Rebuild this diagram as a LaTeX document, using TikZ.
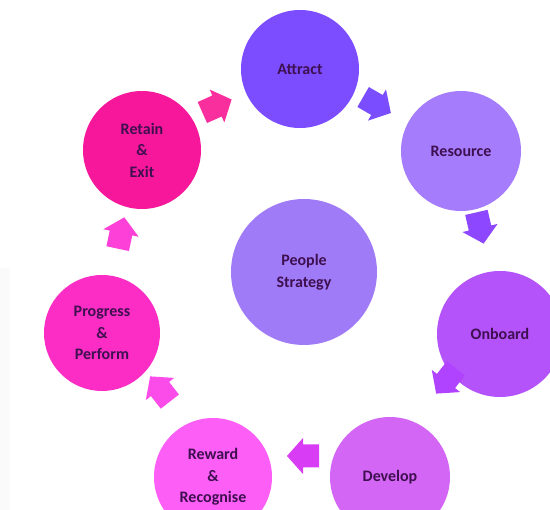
\documentclass[tikz,border=0pt]{standalone}
\usepackage{fontspec}
\setmainfont{Carlito}
\definecolor{cAttract}{HTML}{7C4DFF}
\definecolor{cResource}{HTML}{A57CFB}
\definecolor{cPeople}{HTML}{A07BF8}
\definecolor{cOnboard}{HTML}{B553FA}
\definecolor{cDevelop}{HTML}{D466F5}
\definecolor{cReward}{HTML}{FC5EF6}
\definecolor{cProgress}{HTML}{FB2DC4}
\definecolor{cRetain}{HTML}{F7179A}
\definecolor{aOne}{HTML}{FA2F9E}
\definecolor{aTwo}{HTML}{7A4EFF}
\definecolor{aThree}{HTML}{8D48FF}
\definecolor{aFour}{HTML}{B043FF}
\definecolor{aFive}{HTML}{D93CF5}
\definecolor{aSix}{HTML}{FB4CEA}
\definecolor{aSeven}{HTML}{FD40D8}
\definecolor{txt}{HTML}{3E1050}
\begin{document}
\begin{tikzpicture}[x=1pt,y=-1pt,
  stage/.style={circle, inner sep=0pt, minimum size=#1, align=center,
    text=txt, font=\fontsize{16}{21.5}\selectfont\bfseries},
  blockarrow/.pic={\fill[pic actions] (-16,-11.5) -- (0,-11.5) -- (0,-18) -- (16,0) -- (0,18) -- (0,11.5) -- (-16,11.5) -- cycle;}
]
\useasboundingbox (0,0) rectangle (550,510);
\clip (0,0) rectangle (550,510);
\fill[white] (0,0) rectangle (550,510);
\fill[black!2] (0,268) rectangle (10,510);
\node[stage=118pt, fill=cAttract] (attract) at (300,69) {Attract};
\node[stage=120pt, fill=cResource] (resource) at (461,151) {Resource};
\node[stage=126pt, fill=cOnboard] (onboard) at (500,334) {Onboard};
\node[stage=120pt, fill=cDevelop] (develop) at (390,477) {Develop};
\node[stage=118pt, fill=cReward] (reward) at (213,477) {Reward\\\&\\Recognise};
\node[stage=116pt, fill=cProgress] (progress) at (102,333) {Progress\\\&\\Perform};
\node[stage=118pt, fill=cRetain] (retain) at (142,150) {Retain\\\&\\Exit};
\node[stage=146pt, fill=cPeople] (people) at (304,272) {People\\Strategy};
\coordinate (a1) at (217,106);
\coordinate (a2) at (377,105);
\coordinate (a3) at (480,228);
\coordinate (a4) at (446,381);
\coordinate (a5) at (303,456);
\coordinate (a6) at (160,389);
\coordinate (a7) at (121,233);
\pic[fill=aOne, rotate=24] at (a1) {blockarrow};
\pic[fill=aTwo, rotate=-30] at (a2) {blockarrow};
\pic[fill=aThree, rotate=-77] at (a3) {blockarrow};
\pic[fill=aFour, rotate=-128] at (a4) {blockarrow};
\pic[fill=aFive, rotate=180] at (a5) {blockarrow};
\pic[fill=aSix, rotate=128] at (a6) {blockarrow};
\pic[fill=aSeven, rotate=78] at (a7) {blockarrow};
\end{tikzpicture}
\end{document}
